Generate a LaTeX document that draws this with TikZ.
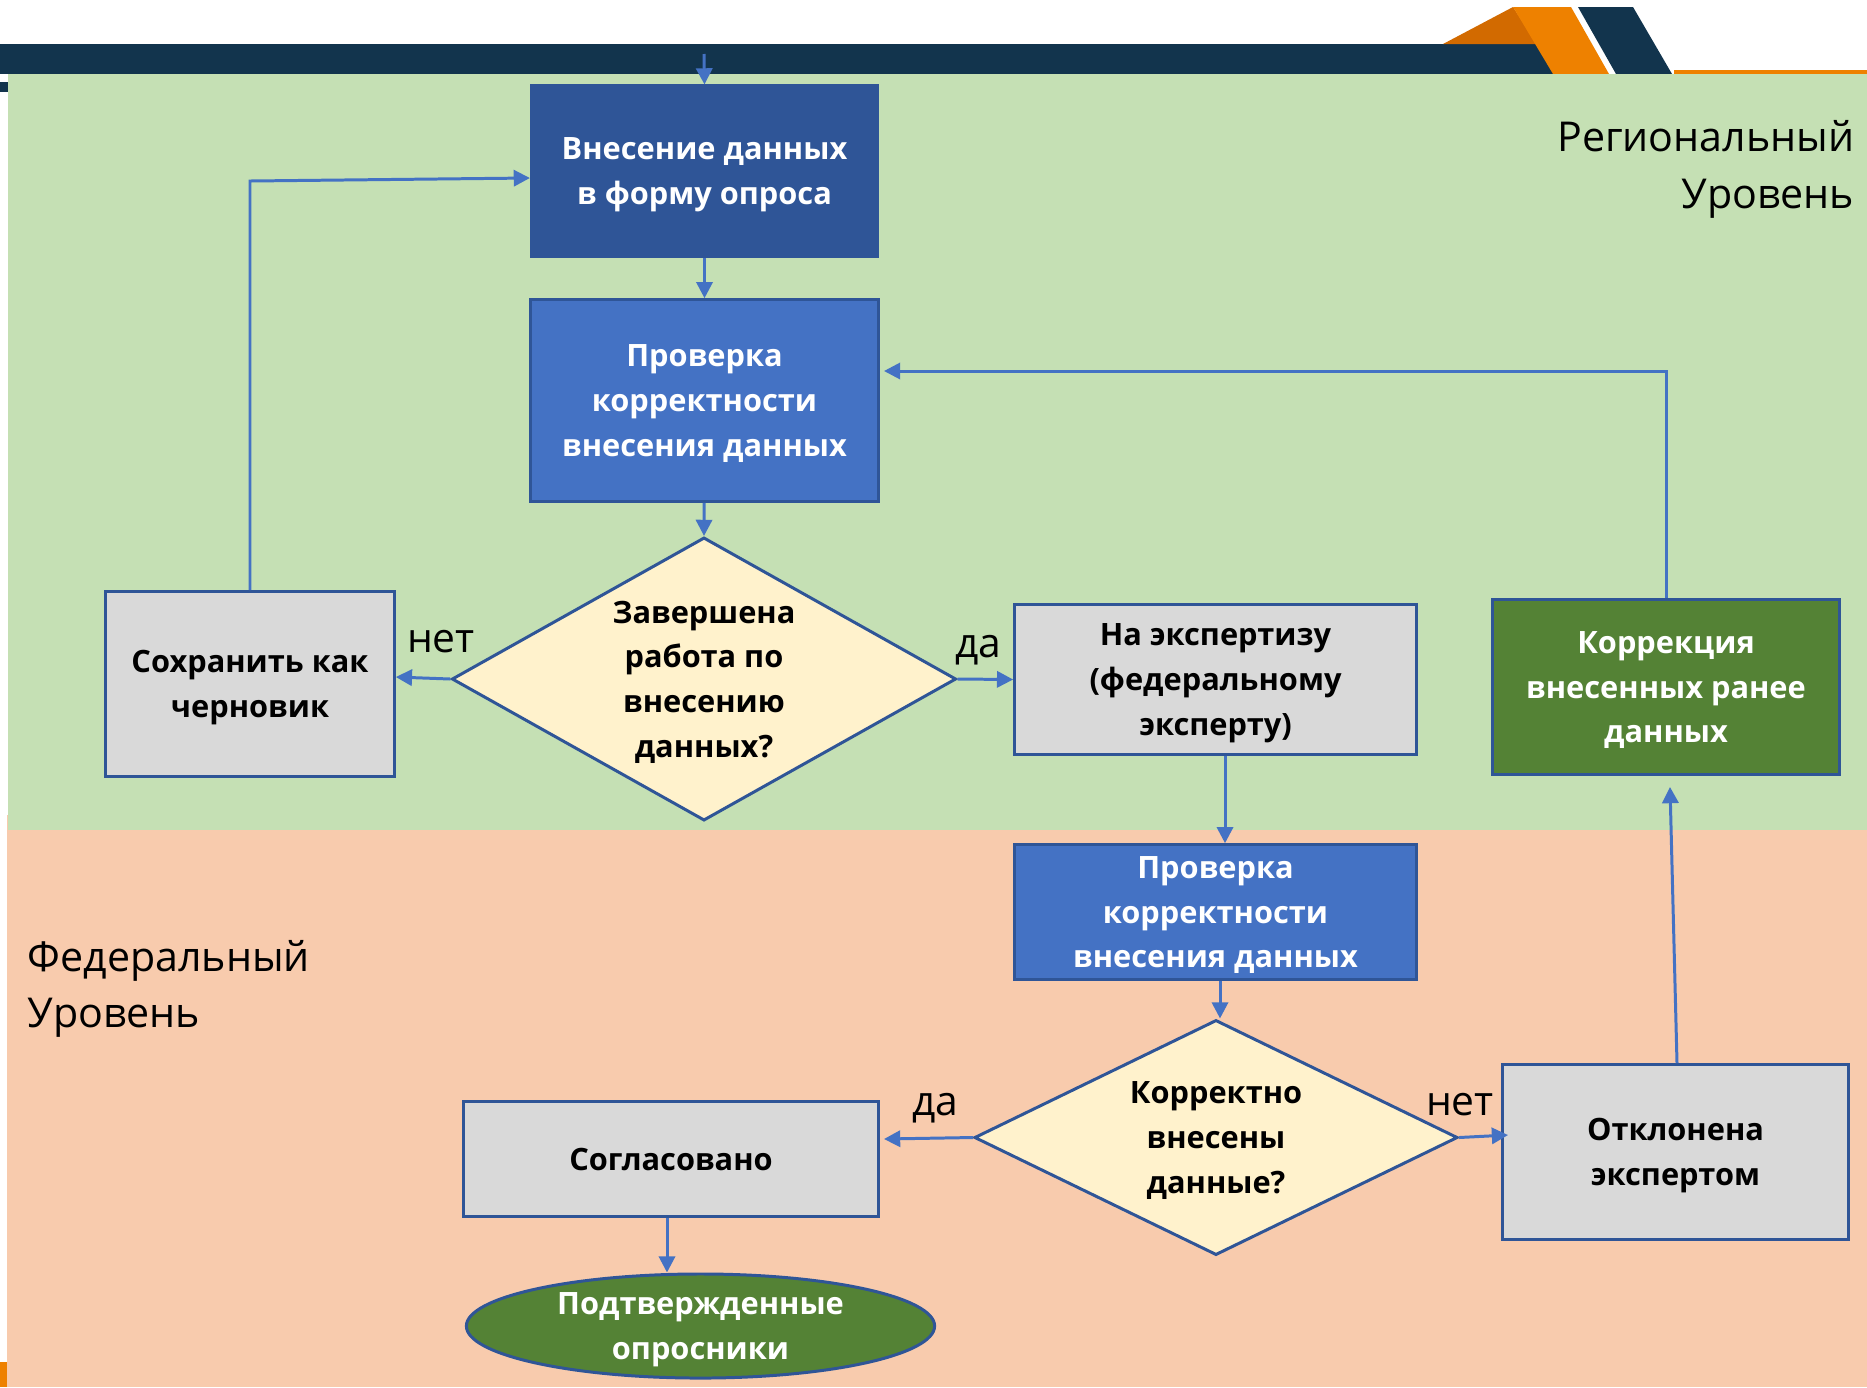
\documentclass[tikz,border=0pt]{standalone}
\usepackage{fontspec}
\setmainfont{Open Sans}
\usetikzlibrary{shapes.geometric,arrows.meta}
\definecolor{navy}{HTML}{12344D}
\definecolor{orangea}{HTML}{EE8100}
\definecolor{orangeb}{HTML}{D26A00}
\definecolor{greenbg}{HTML}{C5E0B4}
\definecolor{peachbg}{HTML}{F8CBAD}
\definecolor{linkblue}{HTML}{4472C4}
\definecolor{edgeblue}{HTML}{2F5597}
\definecolor{boxgray}{HTML}{D9D9D9}
\definecolor{darkgreen}{HTML}{548235}
\definecolor{cream}{HTML}{FFF2CC}
\tikzset{
  boxbase/.style={draw=edgeblue,line width=0.85pt,align=center,inner sep=0pt,text depth=-1.2pt,
    font=\fontsize{8.75}{12.7}\selectfont\bfseries},
  bluebox/.style={boxbase,fill=linkblue,text=white},
  graybox/.style={boxbase,fill=boxgray,text=black},
  greenbox/.style={boxbase,fill=darkgreen,text=white},
  question/.style={boxbase,diamond,aspect=1.8,fill=cream,text=black},
  link/.style={draw=linkblue,line width=0.85pt,-{Triangle[length=4.6pt,width=4.6pt]}},
  answer/.style={font=\fontsize{11.6}{14}\selectfont,text=black,inner sep=0pt},
  level/.style={font=\fontsize{11.7}{16}\selectfont,text=black,inner sep=0pt}
}
\begin{document}
\begin{tikzpicture}[x=0.01cm,y=-0.01cm]
\useasboundingbox (0,0) rectangle (1867,1387);
% header
\fill[navy] (0,44) rectangle (1553,74);
\fill[navy] (0,82) rectangle (8,92);
\fill[orangeb] (1443,44) -- (1513,7) -- (1537,44) -- cycle;
\fill[orangea] (1513,7) -- (1571,7) -- (1609,74) -- (1553,74) -- cycle;
\fill[navy] (1578,7) -- (1633,7) -- (1672,74) -- (1616,74) -- cycle;
\fill[orangea] (1674,70) rectangle (1867,74);
\fill[orangea] (0,1362) rectangle (7,1387);
% levels
\fill[peachbg] (7,815) rectangle (1867,1387);
\fill[greenbg] (8,74) rectangle (1867,830);
\node[level,anchor=east] (regA) at (1855,136) {Региональный};
\node[level,anchor=east] (regB) at (1855,199) {Уровень};
\node[level,anchor=west] (fedA) at (27,961) {Федеральный};
\node[level,anchor=west] (fedB) at (27,1018) {Уровень};
% steps
\coordinate (start) at (704,54);
\node[bluebox,fill=edgeblue,minimum width=3.46cm,minimum height=1.7cm] (input) at (704.5,171) {Внесение данных\\в форму опроса};
\node[bluebox,minimum width=3.475cm,minimum height=2.015cm] (check) at (704.5,400.5) {Проверка\\корректности\\внесения данных};
\node[question,minimum width=5.04cm,minimum height=2.83cm] (done) at (704,679) {Завершена\\работа по\\внесению\\данных?};
\node[graybox,minimum width=2.885cm,minimum height=1.845cm] (draft) at (250,684) {Сохранить как\\черновик};
\node[graybox,minimum width=4.015cm,minimum height=1.495cm] (expert) at (1215.5,679.5) {На экспертизу\\(федеральному\\эксперту)};
\node[greenbox,minimum width=3.465cm,minimum height=1.745cm] (fix) at (1666,687) {Коррекция\\внесенных ранее\\данных};
\node[bluebox,minimum width=4.015cm,minimum height=1.345cm] (recheck) at (1215.5,912) {Проверка\\корректности\\внесения данных};
\node[question,minimum width=4.83cm,minimum height=2.35cm] (valid) at (1216,1137.5) {Корректно\\внесены\\данные?};
\node[graybox,minimum width=4.145cm,minimum height=1.155cm] (agreed) at (671,1159) {Согласовано};
\node[graybox,minimum width=3.455cm,minimum height=1.745cm] (reject) at (1675.5,1152) {Отклонена\\экспертом};
\node[boxbase,ellipse,fill=darkgreen,text=white,minimum width=4.68cm,minimum height=1.04cm] (final) at (700.5,1326) {Подтвержденные\\опросники};
\coordinate (backin) at (1670,787);
% answers
\node[answer] (noA) at (441,642) {нет};
\node[answer] (yesA) at (978,650) {да};
\node[answer] (yesB) at (935,1108) {да};
\node[answer] (noB) at (1460,1105) {нет};
% links
\draw[link] (start) -- (input.north);
\draw[link] (input) -- (check);
\draw[link] (check) -- (done.north);
\draw[link] (done.west) -- (draft.east |- 0,677);
\draw[link] (done.east) -- (expert.west);
\draw[link] (draft.north) -- (250,181) -- (input.west |- 0,178);
\draw[link] (expert.south -| 1225,0) -- (recheck.north -| 1225,0);
\draw[link] (recheck.south -| 1220,0) -- (valid.north -| 1220,0);
\draw[link] (valid.west) -- (884,1139);
\draw[link] (valid.east) -- (1508,1135);
\draw[link] (agreed.south -| 667,0) -- (final.north -| 667,0);
\draw[link] (reject.north -| 1677,0) -- (backin);
\draw[link] (fix.north) |- (884,371);
\end{tikzpicture}
\end{document}
